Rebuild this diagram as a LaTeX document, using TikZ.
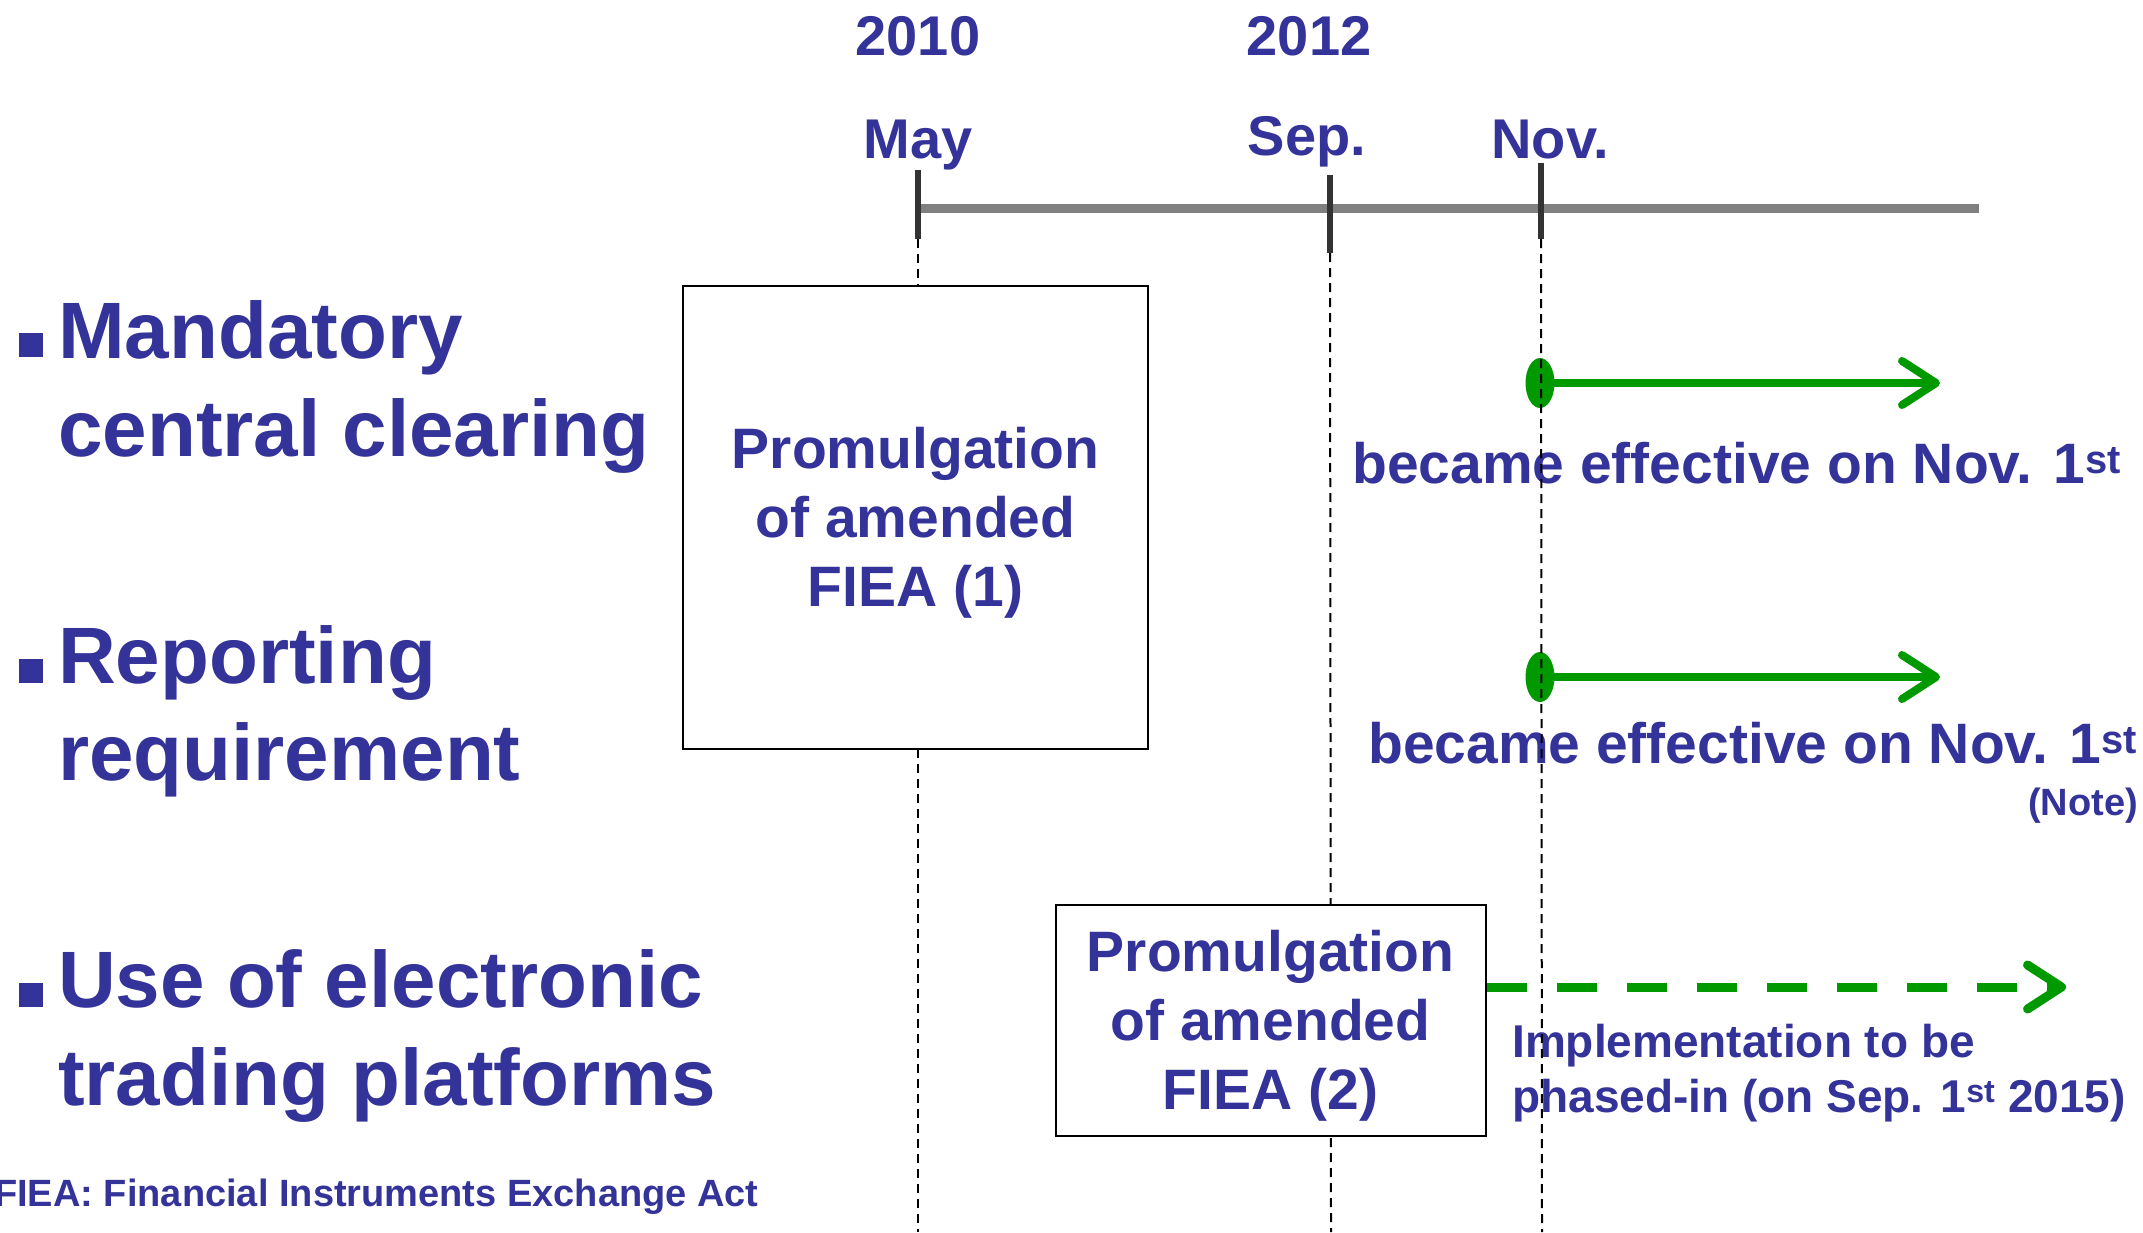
\documentclass[tikz,border=0pt]{standalone}
\usepackage{fontspec}
\setmainfont{Liberation Sans}
\usetikzlibrary{arrows.meta,shapes.geometric}
\definecolor{tblue}{HTML}{333399}
\definecolor{tgreen}{HTML}{009900}
\definecolor{tgray}{HTML}{808080}
\definecolor{tdark}{HTML}{333333}
\begin{document}
\begin{tikzpicture}[x=1pt,y=-1pt,
  txt/.style={text=tblue, inner sep=0, font={\fontsize{#1}{1.2\dimexpr#1pt\relax}\selectfont\bfseries}},
  lbl/.style={txt=80, anchor=base west},
  bul/.style={fill=tblue, minimum size=24pt, inner sep=0, anchor=south west},
  date/.style={txt=56, anchor=base},
  tick/.style={draw=tdark, line width=6pt},
  guide/.style={draw=black, line width=2pt, dash pattern=on 9pt off 6pt},
  lawbox/.style={draw=black, line width=2pt, fill=white, inner sep=0},
  lawtext/.style={align=center, text=tblue, font={\fontsize{57}{69}\selectfont\bfseries}, inner sep=0},
  startdot/.style={ellipse, fill=tgreen, minimum width=29pt, minimum height=50pt, inner sep=0},
  garrow/.style={draw=tgreen, line width=8pt, -{Straight Barb[length=34pt,width=44pt,round]}},
  eff/.style={txt=57, anchor=base west},
]
\useasboundingbox (0,0) rectangle (2143,1232);

% dates
\node[date] (y2010) at (918,55) {2010};
\node[date] (y2012) at (1309,55) {2012};
\node[date] (may) at (918,158) {May};
\node[date] (sep) at (1307,155) {Sep.};
\node[date] (nov) at (1550,158) {Nov.};

% timeline
\coordinate (tl0) at (918,208.5);
\coordinate (tl1) at (1979,208.5);
\draw[draw=tgray, line width=9pt] (tl0) -- (tl1);
\coordinate (t1a) at (918,170);  \coordinate (t1b) at (918,239);
\coordinate (t2a) at (1330,175); \coordinate (t2b) at (1330,253);
\coordinate (t3a) at (1541,163); \coordinate (t3b) at (1541,239);
\draw[tick] (t1a) -- (t1b);
\draw[tick] (t2a) -- (t2b);
\draw[tick] (t3a) -- (t3b);

% left labels
\node[bul] (bu1) at (19,357) {};
\node[lbl] (l1a) at (58,358) {Mandatory};
\node[lbl] (l1b) at (58,456) {central clearing};
\node[bul] (bu2) at (19,683) {};
\node[lbl] (l2a) at (58,683) {Reporting};
\node[lbl] (l2b) at (58,780) {requirement};
\node[bul] (bu3) at (19,1007) {};
\node[lbl] (l3a) at (58,1007) {Use of electronic};
\node[lbl] (l3b) at (58,1105) {trading platforms};

\node[txt=38, anchor=base west] (foot) at (-6,1206) {FIEA: Financial Instruments Exchange Act};

% green arrows
\node[startdot] (d1) at (1540,383) {};
\coordinate (e1) at (1940,383);
\draw[garrow] (d1.center) -- (e1);
\node[eff] (t1) at (1352,483) {became effective on Nov. 1\textsuperscript{st}};

\node[startdot] (d2) at (1540,677) {};
\coordinate (e2) at (1940,677);
\draw[garrow] (d2.center) -- (e2);
\node[eff] (t2) at (1368,763) {became effective on Nov. 1\textsuperscript{st}};
\node[txt=38, anchor=base east] (note) at (2138,815) {(Note)};

\node[txt=46, anchor=base west] (imp1) at (1512,1057) {Implementation to be};
\node[txt=46, anchor=base west] (imp2) at (1512,1112) {phased-in (on Sep. 1\textsuperscript{st} 2015)};

% guides
\coordinate (g1) at (918,1232);
\coordinate (g2) at (1331,1232);
\coordinate (g3) at (1542,1232);
\draw[guide] (t1b) -- (g1);
\draw[guide] (t2b) -- (g2);
\draw[guide] (t3b) -- (g3);

% boxes
\node[lawbox, minimum width=465pt, minimum height=463pt] (b1) at (915.5,517.5) {};
\node[lawtext, yshift=-5pt] (b1t) at (b1.center) {Promulgation\\of amended\\FIEA (1)};
\node[lawbox, minimum width=430pt, minimum height=231pt] (b2) at (1270.5,1020.5) {};
\node[lawtext, yshift=-5pt] (b2t) at (b2.center) {Promulgation\\of amended\\FIEA (2)};

\coordinate (e3) at (2066,987);
\draw[draw=tgreen, line width=9pt, dash pattern=on 40pt off 30pt,
  -{Straight Barb[length=34pt,width=44pt,round]}] (b2.east |- e3) -- (e3);
\end{tikzpicture}
\end{document}
